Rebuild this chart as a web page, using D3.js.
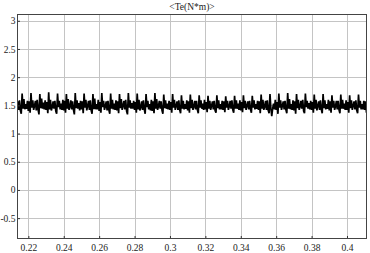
<!DOCTYPE html>
<html>
<head>
<meta charset="utf-8">
<script src="https://cdn.jsdelivr.net/npm/d3@7"></script>
<style>
  html, body { margin: 0; padding: 0; background: #fff; }
  svg text { font-family: "Liberation Serif", "DejaVu Serif", serif; font-size: 9.5px; fill: #222; }
</style>
</head>
<body>
<svg id="chart" width="370" height="253"></svg>
<script>
// sampled torque signal, one row per 0.005 s period
var t0 = 0.2135, dt = 0.0005;
var te = [
  1.48,1.57,1.42,1.59,1.41,1.35,1.71,1.44,1.61,1.43,
  1.52,1.44,1.58,1.40,1.57,1.37,1.72,1.46,1.59,1.42,
  1.49,1.58,1.41,1.60,1.43,1.34,1.70,1.45,1.62,1.44,
  1.55,1.43,1.59,1.42,1.56,1.36,1.73,1.43,1.60,1.41,
  1.47,1.57,1.44,1.58,1.40,1.35,1.71,1.47,1.58,1.43,
  1.53,1.42,1.60,1.41,1.58,1.37,1.70,1.44,1.61,1.42,
  1.48,1.59,1.43,1.57,1.42,1.34,1.72,1.45,1.59,1.44,
  1.54,1.41,1.58,1.43,1.57,1.36,1.71,1.46,1.60,1.41,
  1.49,1.58,1.42,1.59,1.41,1.35,1.70,1.43,1.62,1.43,
  1.52,1.43,1.60,1.40,1.56,1.37,1.72,1.47,1.58,1.42,
  1.48,1.57,1.41,1.58,1.42,1.35,1.71,1.44,1.60,1.43,
  1.53,1.42,1.59,1.41,1.57,1.36,1.70,1.45,1.61,1.42,
  1.49,1.58,1.43,1.60,1.40,1.34,1.72,1.46,1.59,1.44,
  1.54,1.44,1.58,1.42,1.56,1.37,1.71,1.43,1.60,1.41,
  1.47,1.57,1.42,1.59,1.43,1.35,1.70,1.47,1.58,1.43,
  1.52,1.41,1.60,1.40,1.57,1.36,1.72,1.44,1.61,1.42,
  1.48,1.58,1.44,1.57,1.41,1.35,1.69,1.45,1.59,1.44,
  1.53,1.43,1.58,1.42,1.56,1.37,1.70,1.46,1.60,1.42,
  1.49,1.57,1.42,1.59,1.42,1.36,1.68,1.44,1.58,1.43,
  1.52,1.44,1.59,1.41,1.57,1.37,1.69,1.45,1.60,1.42,
  1.48,1.58,1.43,1.58,1.42,1.36,1.68,1.46,1.59,1.44,
  1.53,1.42,1.60,1.43,1.56,1.38,1.67,1.44,1.58,1.42,
  1.49,1.57,1.43,1.58,1.41,1.37,1.68,1.45,1.59,1.43,
  1.52,1.43,1.58,1.42,1.57,1.38,1.66,1.46,1.58,1.42,
  1.48,1.58,1.44,1.59,1.42,1.37,1.67,1.44,1.59,1.44,
  1.53,1.42,1.59,1.41,1.56,1.38,1.68,1.45,1.58,1.42,
  1.49,1.57,1.43,1.58,1.43,1.37,1.67,1.46,1.59,1.43,
  1.52,1.44,1.58,1.42,1.57,1.36,1.69,1.44,1.60,1.42,
  1.48,1.58,1.42,1.59,1.41,1.36,1.70,1.45,1.31,1.44,
  1.53,1.43,1.60,1.42,1.56,1.35,1.71,1.46,1.59,1.42,
  1.49,1.57,1.43,1.58,1.42,1.36,1.72,1.44,1.61,1.43,
  1.52,1.42,1.59,1.41,1.57,1.35,1.70,1.45,1.60,1.42,
  1.48,1.58,1.44,1.60,1.40,1.36,1.71,1.47,1.58,1.44,
  1.54,1.43,1.58,1.42,1.56,1.37,1.69,1.44,1.60,1.41,
  1.49,1.57,1.42,1.59,1.43,1.36,1.70,1.45,1.59,1.43,
  1.52,1.44,1.60,1.41,1.57,1.37,1.68,1.46,1.58,1.42,
  1.48,1.58,1.43,1.58,1.42,1.36,1.69,1.44,1.60,1.44,
  1.53,1.42,1.59,1.42,1.56,1.37,1.68,1.45,1.59,1.42,
  1.49,1.57,1.43,1.59,1.41,1.36,1.69,1.46,1.58,1.43,
  1.52,1.43,1.58,1.42,1.57,1.37,1.68,1.44,1.60,1.42
];
var xTicks = [0.22, 0.24, 0.26, 0.28, 0.3, 0.32, 0.34, 0.36, 0.38, 0.4];
var yTicks = [-0.5, 0, 0.5, 1, 1.5, 2, 2.5, 3];
var title = "<Te(N*m)>";

var margin = { top: 14, right: 3, bottom: 14, left: 17 },
  width = 370 - margin.left - margin.right,
  height = 253 - margin.top - margin.bottom;

var svg = d3.select("#chart");
svg.append("rect").attr("width", 370).attr("height", 253).attr("fill", "#fff");

var g = svg.append("g")
  .attr("transform", "translate(" + margin.left + "," + margin.top + ")");

var x = d3.scaleLinear().domain([0.2136, 0.4113]).range([0, width]);
var y = d3.scaleLinear().domain([-0.87, 3.12]).range([height, 0]);

// grid
g.append("g").selectAll("line").data(xTicks).enter().append("line")
  .attr("x1", function(d) { return Math.round(x(d)) + 0.5; })
  .attr("x2", function(d) { return Math.round(x(d)) + 0.5; })
  .attr("y1", 0).attr("y2", height)
  .attr("stroke", "#c4c4c4").attr("stroke-width", 1);
g.append("g").selectAll("line").data(yTicks).enter().append("line")
  .attr("y1", function(d) { return Math.round(y(d)) + 0.5; })
  .attr("y2", function(d) { return Math.round(y(d)) + 0.5; })
  .attr("x1", 0).attr("x2", width)
  .attr("stroke", "#c4c4c4").attr("stroke-width", 1);

// signal
g.append("clipPath").attr("id", "clip")
  .append("rect").attr("width", width).attr("height", height);

var line = d3.line()
  .x(function(d, i) { return x(t0 + i * dt); })
  .y(function(d) { return y(d); });

g.append("path")
  .datum(te)
  .attr("clip-path", "url(#clip)")
  .attr("fill", "none")
  .attr("stroke", "#000")
  .attr("stroke-width", 1.7)
  .attr("d", line);

// axes
var xAxis = d3.axisBottom(x).tickValues(xTicks).tickSize(3).tickPadding(3)
  .tickFormat(function(d) { return String(d); });
var yAxis = d3.axisLeft(y).tickValues(yTicks).tickSize(3).tickPadding(2)
  .tickFormat(function(d) { return String(d); });

var gx = g.append("g").attr("transform", "translate(0," + height + ")").call(xAxis);
var gy = g.append("g").call(yAxis);
[gx, gy].forEach(function(a) {
  a.attr("font-family", null).attr("font-size", null);
  a.select(".domain").remove();
  a.selectAll(".tick line").attr("stroke", "#333");
});
gx.selectAll(".tick line").attr("y2", -3);
gx.selectAll("text").attr("y", 5);
gy.selectAll(".tick line").attr("x2", 3);
gy.selectAll("text").attr("x", -1.5);

// box
g.append("rect")
  .attr("x", 0.5).attr("y", 0.5)
  .attr("width", width - 1).attr("height", height - 1)
  .attr("fill", "none").attr("stroke", "#444").attr("stroke-width", 1);

svg.append("text")
  .attr("x", margin.left + width / 2)
  .attr("y", 10)
  .attr("text-anchor", "middle")
  .text(title);
</script>
</body>
</html>
